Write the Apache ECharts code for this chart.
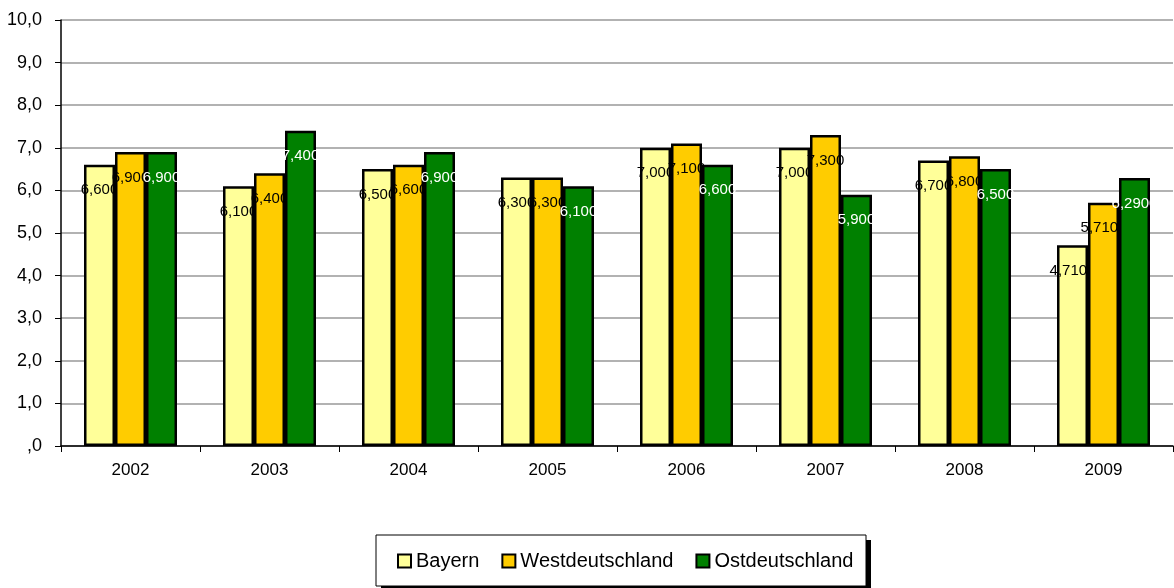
<!DOCTYPE html>
<html>
<head>
<meta charset="utf-8">
<script src="https://cdn.jsdelivr.net/npm/echarts@6/dist/echarts.min.js"></script>
<style>
  html, body { margin: 0; padding: 0; background: #fff; }
  #chart { width: 1174px; height: 588px; }
</style>
</head>
<body>
<div id="chart"></div>
<script>
  const years = ['2002', '2003', '2004', '2005', '2006', '2007', '2008', '2009']
  const bayern = [6.6, 6.1, 6.5, 6.3, 7.0, 7.0, 6.7, 4.71]
  const west = [6.9, 6.4, 6.6, 6.3, 7.1, 7.3, 6.8, 5.71]
  const ost = [6.9, 7.4, 6.9, 6.1, 6.6, 5.9, 6.5, 6.29]
  // Beschriftungen so wie im Original
  const bayernLabels = ['6,600', '6,100', '6,500', '6,300', '7,000', '7,000', '6,700', '4,7100']
  const westLabels = ['6,900', '6,400', '6,600', '6,300', '7,100', '7,300', '6,800', '5,7100']
  const ostLabels = ['6,900', '7,400', '6,900', '6,100', '6,600', '5,900', '6,500', '6,2900']

  const font = 'Liberation Sans, Arial, sans-serif'

  // spätere Serien liegen über den Beschriftungen der früheren
  const makeSeries = (name, data, labels, color, textColor, z) => ({
    name: name,
    type: 'bar',
    z: z,
    data: data,
    barWidth: 31,
    barGap: '0%',
    itemStyle: {
      color: color,
      borderColor: '#000',
      borderWidth: 2.5
    },
    label: {
      show: true,
      position: 'insideTop',
      distance: 18,
      color: textColor,
      fontFamily: font,
      fontSize: 15,
      formatter: (p) => labels[p.dataIndex]
    }
  })

  var chart = echarts.init(document.getElementById('chart'))
  chart.setOption({
    animation: false,
    grid: {
      left: 61,
      right: 1,
      top: 20,
      bottom: 142
    },
    // Legendenrahmen mit Schatten
    graphic: [{
      type: 'rect',
      z: 0,
      shape: { x: 381, y: 540, width: 490, height: 51 },
      style: { fill: '#000' }
    }, {
      type: 'rect',
      z: 1,
      shape: { x: 376, y: 535, width: 490, height: 51 },
      style: { fill: '#fff', stroke: '#000', lineWidth: 1 }
    }],
    legend: {
      left: 397,
      top: 551,
      z: 5,
      icon: 'rect',
      itemWidth: 13,
      itemHeight: 13,
      itemGap: 22,
      padding: 0,
      textStyle: {
        fontFamily: font,
        fontSize: 20,
        color: '#000'
      },
      itemStyle: {
        borderColor: '#000',
        borderWidth: 2
      }
    },
    xAxis: {
      type: 'category',
      data: years,
      axisLine: { lineStyle: { color: '#000', width: 1.5 } },
      axisTick: { show: true, length: 6, lineStyle: { color: '#000' } },
      axisLabel: {
        fontFamily: font,
        fontSize: 17,
        color: '#000',
        margin: 16
      }
    },
    yAxis: {
      type: 'value',
      min: 0,
      max: 10,
      interval: 1,
      axisLine: { show: true, lineStyle: { color: '#000', width: 1.5 } },
      axisTick: { show: true, length: 6, lineStyle: { color: '#000' } },
      splitLine: { lineStyle: { color: '#999', width: 1.5 } },
      axisLabel: {
        fontFamily: font,
        fontSize: 18,
        color: '#000',
        margin: 19,
        formatter: (v) => v === 0 ? ',0' : v.toFixed(1).replace('.', ',')
      }
    },
    series: [
      makeSeries('Bayern', bayern, bayernLabels, '#FFFF99', '#000', 2),
      makeSeries('Westdeutschland', west, westLabels, '#FFCC00', '#000', 3),
      makeSeries('Ostdeutschland', ost, ostLabels, '#008000', '#fff', 4)
    ]
  })
</script>
</body>
</html>
